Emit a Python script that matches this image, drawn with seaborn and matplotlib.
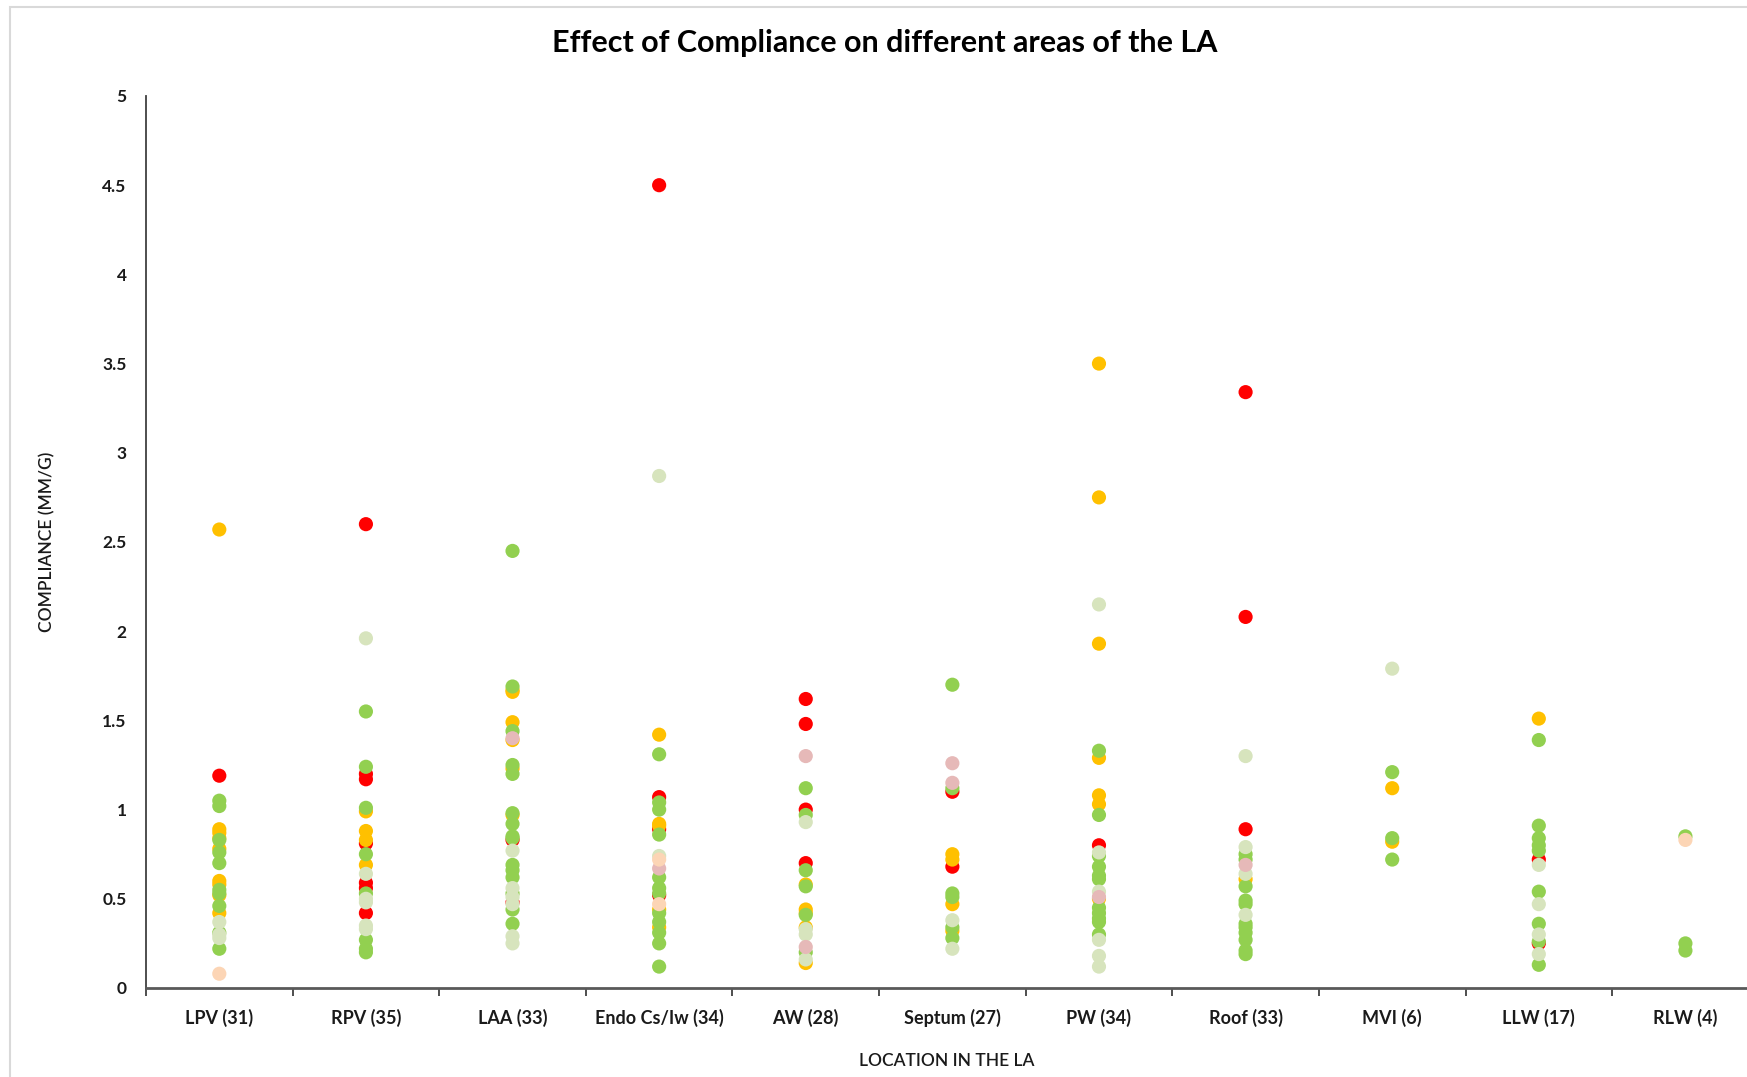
import numpy as np
import pandas as pd
import seaborn as sns
import matplotlib
matplotlib.use("Agg")
import matplotlib.pyplot as plt
from matplotlib.patches import Rectangle

sns.set_theme(style="white")
plt.rcParams['font.family'] = ['Lato', 'DejaVu Sans']

locations = ["LPV (31)", "RPV (35)", "LAA (33)", "Endo Cs/Iw (34)", "AW (28)",
             "Septum (27)", "PW (34)", "Roof (33)", "MVI (6)", "LLW (17)", "RLW (4)"]

series_order = ["red", "orange", "green", "light", "pink", "peach"]
palette = {"red": "#FF0000", "orange": "#FFC000", "green": "#92D050",
           "light": "#D7E4BD", "pink": "#E6B9B8", "peach": "#FCD5B5"}

# compliance values (mm/g) per location, split by marker colour
LPV = dict(red=[1.19],
           orange=[2.57, 0.89, 0.87, 0.84, 0.78, 0.60, 0.58, 0.52, 0.42],
           green=[1.05, 1.02, 0.83, 0.76, 0.70, 0.55, 0.53, 0.46, 0.31, 0.22],
           light=[0.37, 0.28, 0.30],
           peach=[0.08])
RPV = dict(red=[2.60, 1.20, 1.17, 0.81, 0.59, 0.56, 0.42],
           orange=[0.99, 0.88, 0.83, 0.69],
           green=[1.55, 1.24, 1.01, 0.75, 0.53, 0.27, 0.22, 0.20],
           light=[1.96, 0.64, 0.50, 0.48, 0.35, 0.33])
LAA = dict(red=[0.83, 0.48],
           orange=[1.67, 1.66, 1.49, 1.39, 1.23, 0.97],
           green=[2.45, 1.69, 1.44, 1.25, 1.20, 0.98, 0.92, 0.85, 0.84,
                  0.69, 0.66, 0.62, 0.53, 0.44, 0.36],
           light=[0.77, 0.56, 0.51, 0.47, 0.29, 0.25],
           pink=[1.40])
ENDO = dict(red=[4.50, 1.07, 0.89, 0.52],
            orange=[1.42, 0.92, 0.91, 0.44, 0.34],
            green=[1.31, 1.04, 1.00, 0.86, 0.62, 0.56, 0.53, 0.42, 0.37, 0.31, 0.25, 0.12],
            light=[2.87, 0.74],
            pink=[0.67],
            peach=[0.72, 0.47])
AW = dict(red=[1.62, 1.48, 1.00, 0.70],
          orange=[0.58, 0.44, 0.42, 0.34, 0.14],
          green=[1.12, 0.97, 0.66, 0.57, 0.41, 0.20],
          light=[0.93, 0.33, 0.30, 0.16],
          pink=[1.30, 0.23])
SEPTUM = dict(red=[1.10, 0.68],
              orange=[0.75, 0.72, 0.47, 0.32],
              green=[1.70, 1.12, 0.53, 0.51, 0.34, 0.28],
              light=[0.38, 0.22],
              pink=[1.26, 1.15])
PW = dict(red=[0.80],
          orange=[3.50, 2.75, 1.93, 1.29, 1.08, 1.03, 0.50],
          green=[1.33, 0.97, 0.74, 0.68, 0.63, 0.61, 0.45, 0.42, 0.39, 0.37, 0.30],
          light=[2.15, 0.76, 0.54, 0.27, 0.18, 0.12],
          pink=[0.51])
ROOF = dict(red=[3.34, 2.08, 0.89],
            orange=[0.61],
            green=[0.75, 0.72, 0.57, 0.49, 0.47, 0.36, 0.34, 0.31, 0.27, 0.21, 0.19],
            light=[1.30, 0.79, 0.64, 0.41],
            pink=[0.69])
MVI = dict(orange=[1.12, 0.82],
           green=[1.21, 0.84, 0.72],
           light=[1.79])
LLW = dict(red=[0.72, 0.25],
           orange=[1.51],
           green=[1.39, 0.91, 0.84, 0.80, 0.77, 0.54, 0.36, 0.26, 0.13],
           light=[0.69, 0.47, 0.30, 0.19])
RLW = dict(green=[0.85, 0.25, 0.21],
           peach=[0.83])

rows = []
for loc, groups in zip(locations, [LPV, RPV, LAA, ENDO, AW, SEPTUM, PW, ROOF, MVI, LLW, RLW]):
    for s in series_order:
        for v in groups.get(s, []):
            rows.append((loc, s, v))
df = pd.DataFrame(rows, columns=["Location", "Series", "Compliance"])

fig = plt.figure(figsize=(17.47, 10.77), dpi=100)
ax = fig.add_axes([146 / 1747, 89 / 1077, 1 - 146 / 1747, 892 / 1077])

sns.stripplot(data=df, x="Location", y="Compliance", hue="Series", order=locations,
              hue_order=series_order, palette=palette, jitter=False, dodge=False,
              size=10.2, linewidth=0, legend=False, ax=ax)

ax.set_xlim(-0.5, 10.42)
ax.set_ylim(0, 5)

yt = np.arange(0, 5.01, 0.5)
ax.set_yticks(yt)
ax.set_yticklabels([f"{v:g}" for v in yt], fontsize=12.5, fontweight="bold", color="#1a1a1a")
ax.tick_params(axis="y", length=0, pad=14)

ax.set_xticks(range(len(locations)))
ax.set_xticklabels(locations, fontsize=13, fontweight="bold", color="#1a1a1a")
ax.set_xticks(np.arange(-0.5, 10.5, 1), minor=True)
ax.tick_params(axis="x", which="major", length=0, pad=15)
ax.tick_params(axis="x", which="minor", length=6, width=1.3, color="#404040",
               direction="out", bottom=True)

sns.despine(ax=ax)
ax.spines["left"].set_color("#404040")
ax.spines["left"].set_linewidth(1.3)
ax.spines["bottom"].set_color("#595959")
ax.spines["bottom"].set_linewidth(2)
ax.grid(False)

ax.set_xlabel("LOCATION IN THE LA", fontsize=12.5, fontweight="semibold", color="#1a1a1a")
ax.set_ylabel("COMPLIANCE (MM/G)", fontsize=12.5, fontweight="semibold", color="#1a1a1a")
ax.yaxis.set_label_coords(-(146 - 47) / (1747 - 146), 0.5)
ax.xaxis.set_label_coords(0.5, -(1061 - 988) / 892)
ax.xaxis.label.set_va("center")
ax.yaxis.label.set_va("center")

fig.text(885 / 1747, 1 - 43 / 1077, "Effect of Compliance on different areas of the LA",
         ha="center", va="center", fontsize=22, fontweight="bold", color="black")

fig.patches.append(Rectangle((10 / 1747, -0.1), 1.2, 1.1 - 7 / 1077,
                             transform=fig.transFigure, fill=False,
                             edgecolor="#D9D9D9", linewidth=1.5))

fig.savefig("out.png", dpi=100)
